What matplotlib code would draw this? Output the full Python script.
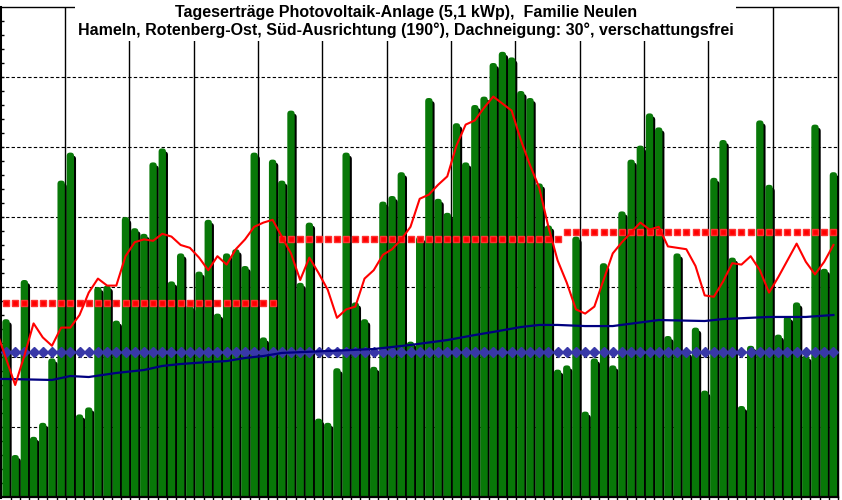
"""Tageserträge einer PV-Anlage, April bis Juni, als Balken mit Mittelwertlinien."""
import numpy as np
import matplotlib
matplotlib.use("Agg")
import matplotlib.pyplot as plt
from matplotlib.patches import Rectangle, FancyBboxPatch

# daily yield in kWh, 1 April .. 30 June (91 days)
daily_kwh = [
    12.7, 3.0, 15.5, 4.3, 5.3, 9.9, 22.6, 24.6, 5.9, 6.4,
    15.0, 15.1, 12.6, 20.0, 19.2, 18.8, 23.9, 24.9, 15.4, 17.4,
    13.7, 16.1, 19.8, 13.1, 17.4, 17.7, 16.5, 24.6, 11.4, 24.1,
    22.6, 27.6, 15.3, 19.6, 5.6, 5.3, 9.2, 24.6, 13.9, 12.7,
    9.3, 21.1, 21.5, 23.2, 11.1, 18.6, 28.5, 21.3, 20.3, 26.7,
    23.9, 28.0, 28.6, 31.0, 31.8, 31.4, 29.0, 28.5, 22.4, 19.4,
    9.1, 9.4, 18.6, 6.1, 9.9, 16.7, 9.4, 20.4, 24.1, 25.1,
    27.4, 26.4, 11.5, 17.4, 10.4, 12.1, 7.6, 22.8, 25.5, 17.1,
    6.5, 10.8, 26.9, 22.3, 11.6, 12.9, 13.9, 10.1, 26.6, 16.3,
    23.2,
]

# gleitender Mittelwert, starting with the last day of March (index -1)
moving_avg = [
    11.8,
    9.9, 8.0, 10.1, 12.4, 11.4, 10.8, 12.1, 12.1, 13.0, 14.6,
    15.6, 15.1, 15.1, 17.2, 18.2, 18.4, 18.3, 18.8, 18.6, 18.0,
    17.8, 17.1, 16.2, 17.2, 16.6, 17.7, 18.4, 19.3, 19.6, 19.8,
    18.6, 17.4, 15.5, 17.1, 16.0, 14.8, 12.8, 13.4, 13.6, 15.6,
    16.2, 17.3, 17.7, 18.4, 19.3, 21.3, 21.6, 22.3, 22.9, 25.1,
    26.6, 26.9, 27.8, 28.6, 28.1, 27.6, 25.5, 23.7, 22.1, 19.3,
    16.9, 15.3, 13.4, 13.1, 13.6, 15.5, 17.4, 18.2, 18.9, 19.6,
    19.1, 19.3, 17.9, 17.8, 17.7, 16.5, 14.4, 14.3, 15.4, 16.7,
    16.6, 17.2, 16.2, 14.6, 15.7, 16.9, 18.1, 16.8, 15.9, 16.8,
    18.0,
]

# monthly reference values (April, May, June)
month_days = [30, 31, 30]
month_ref = [13.84, 18.41, 18.91]

# long-term daily average
year_avg = 10.38

# running average since 1 January, read at a few days
cum_days = [-1, 0, 5, 7, 9, 12, 15, 17, 19, 22, 24, 26, 28, 30, 40, 44, 48,
            51, 53, 56, 58, 60, 63, 66, 71, 76, 78, 83, 87, 90]
cum_avg = [8.43, 8.43, 8.36, 8.64, 8.57, 8.86, 9.07, 9.36, 9.5, 9.64, 9.71,
           9.93, 10.07, 10.29, 10.57, 10.86, 11.21, 11.57, 11.79, 12.14,
           12.29, 12.29, 12.21, 12.21, 12.64, 12.57, 12.71, 12.86, 12.86, 13.0]

title_1 = "Tageserträge Photovoltaik-Anlage (5,1 kWp),  Familie Neulen"
title_2 = ("Hameln, Rotenberg-Ost, Süd-Ausrichtung (190°), Dachneigung: 30°, "
           "verschattungsfrei")

days = np.arange(len(daily_kwh))
daily = np.array(daily_kwh)
avg_days = np.arange(-1, len(moving_avg) - 1)
ref_per_day = np.repeat(month_ref, month_days)

W, H = 842, 500
fig = plt.figure(figsize=(W / 100, H / 100), dpi=100)
ax = fig.add_axes([0, 3 / H, 838 / W, 490 / H])
ax.set_xlim(-0.651, 90.34)
ax.set_ylim(0, 35)


def round_tops(bars, r=0.36):
    # swap each plain bar for the same box with rounded corners; the bottom
    # corners sit below the axis and get clipped away
    for rect in bars:
        ax.add_patch(FancyBboxPatch(
            (rect.get_x(), -1), rect.get_width(), rect.get_height() + 1,
            boxstyle=f"round,pad=0,rounding_size={r}", mutation_aspect=0.66,
            fc=rect.get_facecolor(), ec="none", zorder=rect.get_zorder()))
        rect.set_visible(False)


# grid: dashed horizontals, solid weekly verticals
for yv in range(5, 35, 5):
    ax.axhline(yv, color="black", lw=0.8, ls=(0, (3, 2)), zorder=0.5)
for xv in np.arange(7, 91, 7) - 0.6:
    ax.axvline(xv, color="black", lw=1.0, zorder=0.5)

# bars with a black drop shadow
shadow = ax.bar(days + 0.22, daily - 0.22, width=0.8, color="black", zorder=1)
green = ax.bar(days, daily, width=0.8, color="#087808", zorder=2)
round_tops(shadow)
round_tops(green)

ax.plot(days, np.full(len(days), year_avg), color="#1a1a70", lw=0.8,
        marker="D", ms=5, mfc="#3838a8", mec="#3838a8", zorder=3)
ax.plot(cum_days, cum_avg, color="#000080", lw=1.6, zorder=4)
ax.plot(days, ref_per_day, ls="none", marker="s", ms=5.0, color="#ff0000",
        mec="#ff3030", zorder=5)
ax.plot(avg_days, moving_avg, color="#ff0000", lw=1.5, zorder=6)

# frame and ticks
for side in ("top", "right"):
    ax.spines[side].set_linewidth(1.0)
ax.spines["left"].set_linewidth(2.2)
ax.spines["bottom"].set_linewidth(1.6)
ax.set_yticks(np.arange(1, 35))
ax.tick_params(axis="y", direction="in", length=3, width=1, labelleft=False)
ax.set_xticks(days + 0.5)
ax.tick_params(axis="x", direction="out", length=2.2, width=1, labelbottom=False)

# white title box over the top of the plot
fig.patches.append(Rectangle((75 / W, 1 - 41 / H), (736 - 75) / W, 41 / H,
                             transform=fig.transFigure, facecolor="white",
                             edgecolor="none", zorder=5))
fig.text(406 / W, 1 - 12 / H, title_1, ha="center", va="center",
         fontsize=11.5, fontweight="bold", family="Liberation Sans", zorder=6)
fig.text(406 / W, 1 - 30 / H, title_2, ha="center", va="center",
         fontsize=11.5, fontweight="bold", family="Liberation Sans", zorder=6)

fig.savefig("out.png", dpi=100)
